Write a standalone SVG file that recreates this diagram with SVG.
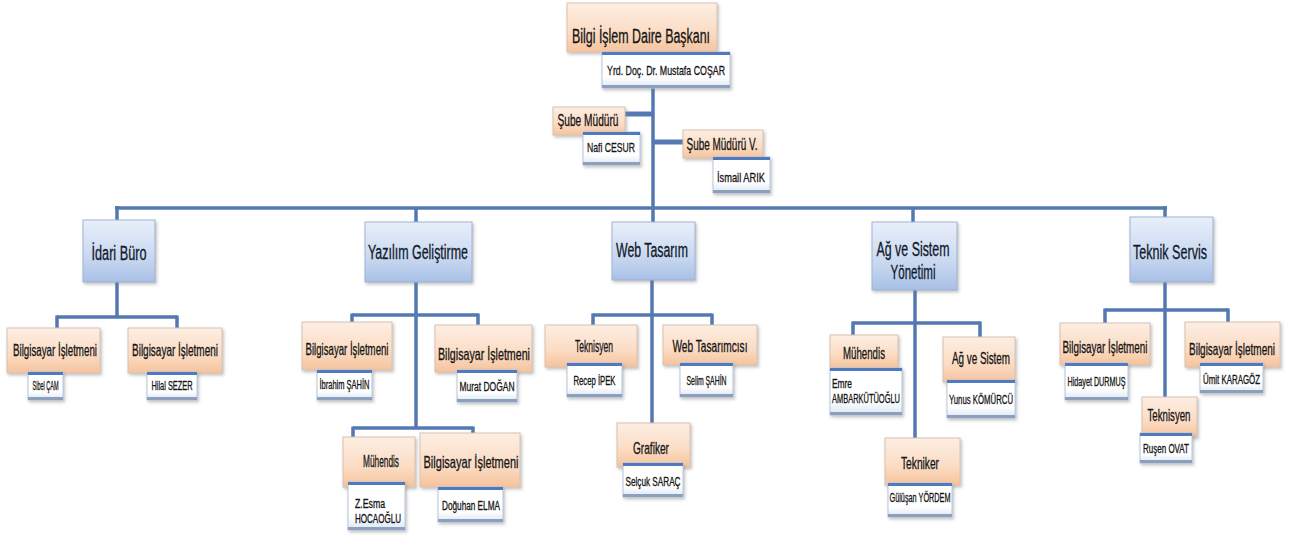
<svg xmlns="http://www.w3.org/2000/svg" width="1290" height="536" viewBox="0 0 1290 536">
<defs>
<linearGradient id="gOr" x1="0" y1="0" x2="0" y2="1">
<stop offset="0" stop-color="#fdeee3"/><stop offset="0.6" stop-color="#fbdcc4"/><stop offset="1" stop-color="#f5c39c"/>
</linearGradient>
<linearGradient id="gBl" x1="0" y1="0" x2="0" y2="1">
<stop offset="0" stop-color="#e8effa"/><stop offset="0.6" stop-color="#c9d8f0"/><stop offset="1" stop-color="#a8c0e6"/>
</linearGradient>
<linearGradient id="gNm" x1="0" y1="0" x2="0" y2="1">
<stop offset="0" stop-color="#ffffff"/><stop offset="0.7" stop-color="#ffffff"/><stop offset="1" stop-color="#dbe6f4"/>
</linearGradient>
<filter id="sh" x="-20%" y="-20%" width="140%" height="150%">
<feDropShadow dx="1.5" dy="2" stdDeviation="1.5" flood-color="#7a7a7a" flood-opacity="0.45"/>
</filter>
<style>
.ob{fill:url(#gOr);stroke:#d8c2b0;stroke-width:1;filter:url(#sh)}
.db{fill:url(#gBl);stroke:#9fb3d3;stroke-width:1;filter:url(#sh)}
.nb{fill:url(#gNm);stroke:#b7c6dc;stroke-width:1;filter:url(#sh)}
.nt{stroke:#4f7ac0;stroke-width:3;fill:none}
.nbb{stroke:#8c9fbd;stroke-width:3;fill:none}
.cn path{stroke:#5478b2;stroke-width:3.5;fill:none;stroke-linecap:butt}
.cn .th{stroke-width:5}
text{font-family:"Liberation Sans Narrow","Liberation Sans",Arial,sans-serif;fill:#141414;stroke:#141414;stroke-width:0.3}
.t1{font-size:20px;text-anchor:middle;fill:#10182a;stroke:#10182a}
.t2{font-size:16.5px;text-anchor:middle}
.t3{font-size:13.5px;text-anchor:middle}
.t4{font-size:12px;text-anchor:middle}
.t4l{font-size:12px}
</style>
</defs>
<rect width="1290" height="536" fill="#ffffff"/>
<g id="connectors" class="cn">
<path d="M653 88V208"/>
<path class="th" d="M625 114H653"/>
<path class="th" d="M653 142H683"/>
<path d="M115 208H1167"/>
<path d="M117 206V220"/>
<path d="M416 208V222"/>
<path d="M653 208V222"/>
<path d="M913 208V222"/>
<path d="M1165 206V217"/>
<path d="M117 282V317"/>
<path d="M57 317H177"/>
<path d="M57 315.5V328M177 315.5V328"/>
<path d="M416 282V428"/>
<path d="M352 315H478"/>
<path d="M352 313.5V323M478 313.5V325"/>
<path d="M353 428H473"/>
<path d="M353 426.5V437M473 426.5V433"/>
<path d="M652 280V423"/>
<path d="M593 315H712"/>
<path d="M593 313.5V325M712 313.5V325"/>
<path d="M915 290V438"/>
<path d="M853 323H980"/>
<path d="M853 321.5V335M980 321.5V337"/>
<path d="M1165 282V397"/>
<path d="M1105 310H1228"/>
<path d="M1105 308.5V323M1228 308.5V322"/>
</g>
<g id="baskan">
<rect class="ob" x="567" y="3" width="150" height="49"/>
<text class="t1" x="641" y="43" font-size="18" textLength="138" lengthAdjust="spacingAndGlyphs" style="fill:#141414;stroke:#141414">Bilgi İşlem Daire Başkanı</text>
<rect class="nb" x="602" y="52" width="128" height="36"/>
<path class="nt" d="M602 53.5H730"/><path class="nbb" d="M602 86.5H730"/>
<text class="t3" x="666" y="75" textLength="118" lengthAdjust="spacingAndGlyphs">Yrd. Doç. Dr. Mustafa COŞAR</text>
</g>
<g id="sube-muduru">
<rect class="ob" x="553" y="107" width="72" height="28"/>
<text class="t2" x="588" y="126" font-size="15" textLength="61" lengthAdjust="spacingAndGlyphs">Şube Müdürü</text>
<rect class="nb" x="583" y="132" width="57" height="33"/>
<path class="nt" d="M583 133.5H640"/><path class="nbb" d="M583 163.5H640"/>
<text class="t3" x="611" y="152" textLength="48" lengthAdjust="spacingAndGlyphs">Nafi CESUR</text>
</g>
<g id="sube-muduru-v">
<rect class="ob" x="683" y="130" width="80" height="28"/>
<text class="t2" x="722" y="150" font-size="15" textLength="71" lengthAdjust="spacingAndGlyphs">Şube Müdürü V.</text>
<rect class="nb" x="713" y="157" width="57" height="36"/>
<path class="nt" d="M713 158.5H770"/><path class="nbb" d="M713 191.5H770"/>
<text class="t3" x="741" y="182" textLength="48" lengthAdjust="spacingAndGlyphs">İsmail ARIK</text>
</g>
<g id="idari-buro">
<rect class="db" x="83" y="220" width="72" height="62"/>
<text class="t1" x="119" y="260" textLength="55" lengthAdjust="spacingAndGlyphs">İdari Büro</text>
</g>
<g id="idari-bi-1">
<rect class="ob" x="7" y="328" width="93" height="45"/>
<text class="t2" x="55" y="356" textLength="84" lengthAdjust="spacingAndGlyphs">Bilgisayar İşletmeni</text>
<rect class="nb" x="28" y="372" width="35" height="28"/>
<path class="nt" d="M28 373.5H63"/><path class="nbb" d="M28 398.5H63"/>
<text class="t4" x="45.5" y="390" textLength="26" lengthAdjust="spacingAndGlyphs">Sibel ÇAM</text>
</g>
<g id="idari-bi-2">
<rect class="ob" x="128" y="328" width="94" height="45"/>
<text class="t2" x="175" y="356" textLength="86" lengthAdjust="spacingAndGlyphs">Bilgisayar İşletmeni</text>
<rect class="nb" x="147" y="372" width="50" height="28"/>
<path class="nt" d="M147 373.5H197"/><path class="nbb" d="M147 398.5H197"/>
<text class="t4" x="172" y="390" textLength="41" lengthAdjust="spacingAndGlyphs">Hilal SEZER</text>
</g>
<g id="yazilim">
<rect class="db" x="365" y="222" width="107" height="60"/>
<text class="t1" x="418" y="259" textLength="100" lengthAdjust="spacingAndGlyphs">Yazılım Geliştirme</text>
</g>
<g id="yazilim-bi-1">
<rect class="ob" x="302" y="322" width="90" height="48"/>
<text class="t2" x="347" y="355" textLength="83" lengthAdjust="spacingAndGlyphs">Bilgisayar İşletmeni</text>
<rect class="nb" x="317" y="370" width="55" height="30"/>
<path class="nt" d="M317 371.5H372"/><path class="nbb" d="M317 398.5H372"/>
<text class="t4" x="344.5" y="389" textLength="50" lengthAdjust="spacingAndGlyphs">İbrahim ŞAHİN</text>
</g>
<g id="yazilim-bi-2">
<rect class="ob" x="435" y="325" width="97" height="47"/>
<text class="t2" x="484" y="360" textLength="92" lengthAdjust="spacingAndGlyphs">Bilgisayar İşletmeni</text>
<rect class="nb" x="457" y="370" width="60" height="32"/>
<path class="nt" d="M457 371.5H517"/><path class="nbb" d="M457 400.5H517"/>
<text class="t4" x="487" y="391" textLength="55" lengthAdjust="spacingAndGlyphs">Murat DOĞAN</text>
</g>
<g id="yazilim-muhendis">
<rect class="ob" x="343" y="437" width="72" height="50"/>
<text class="t2" x="381" y="467" textLength="36" lengthAdjust="spacingAndGlyphs">Mühendis</text>
<rect class="nb" x="348" y="482" width="57" height="48"/>
<path class="nt" d="M348 483.5H405"/><path class="nbb" d="M348 528.5H405"/>
<text class="t4l" x="355" y="508" textLength="30" lengthAdjust="spacingAndGlyphs">Z.Esma</text>
<text class="t4l" x="355" y="523" textLength="46" lengthAdjust="spacingAndGlyphs">HOCAOĞLU</text>
</g>
<g id="yazilim-bi-3">
<rect class="ob" x="420" y="433" width="100" height="54"/>
<text class="t2" x="471" y="468" textLength="95" lengthAdjust="spacingAndGlyphs">Bilgisayar İşletmeni</text>
<rect class="nb" x="438" y="487" width="65" height="35"/>
<path class="nt" d="M438 488.5H503"/><path class="nbb" d="M438 520.5H503"/>
<text class="t4" x="471" y="510" textLength="58" lengthAdjust="spacingAndGlyphs">Doğuhan ELMA</text>
</g>
<g id="web-tasarim">
<rect class="db" x="612" y="222" width="83" height="58"/>
<text class="t1" x="652" y="257" textLength="72" lengthAdjust="spacingAndGlyphs">Web Tasarım</text>
</g>
<g id="web-teknisyen">
<rect class="ob" x="545" y="325" width="92" height="42"/>
<text class="t2" x="594" y="352" textLength="38" lengthAdjust="spacingAndGlyphs">Teknisyen</text>
<rect class="nb" x="567" y="363" width="55" height="34"/>
<path class="nt" d="M567 364.5H622"/><path class="nbb" d="M567 395.5H622"/>
<text class="t4" x="594.5" y="385" textLength="42" lengthAdjust="spacingAndGlyphs">Recep İPEK</text>
</g>
<g id="web-tasarimci">
<rect class="ob" x="663" y="325" width="94" height="40"/>
<text class="t2" x="710" y="352" textLength="75" lengthAdjust="spacingAndGlyphs">Web Tasarımcısı</text>
<rect class="nb" x="680" y="363" width="53" height="34"/>
<path class="nt" d="M680 364.5H733"/><path class="nbb" d="M680 395.5H733"/>
<text class="t4" x="706.5" y="385" textLength="40" lengthAdjust="spacingAndGlyphs">Selim ŞAHİN</text>
</g>
<g id="web-grafiker">
<rect class="ob" x="617" y="423" width="73" height="44"/>
<text class="t2" x="651" y="454" textLength="36" lengthAdjust="spacingAndGlyphs">Grafiker</text>
<rect class="nb" x="623" y="463" width="60" height="34"/>
<path class="nt" d="M623 464.5H683"/><path class="nbb" d="M623 495.5H683"/>
<text class="t4" x="653" y="486" textLength="55" lengthAdjust="spacingAndGlyphs">Selçuk SARAÇ</text>
</g>
<g id="ag-sistem">
<rect class="db" x="872" y="222" width="85" height="68"/>
<text class="t1" x="913" y="256" textLength="73" lengthAdjust="spacingAndGlyphs">Ağ ve Sistem</text>
<text class="t1" x="913" y="279" textLength="45" lengthAdjust="spacingAndGlyphs">Yönetimi</text>
</g>
<g id="ag-muhendis">
<rect class="ob" x="830" y="335" width="68" height="33"/>
<text class="t2" x="864" y="359" textLength="42" lengthAdjust="spacingAndGlyphs">Mühendis</text>
<rect class="nb" x="830" y="368" width="72" height="47"/>
<path class="nt" d="M830 369.5H902"/><path class="nbb" d="M830 413.5H902"/>
<text class="t4l" x="832" y="388" textLength="20" lengthAdjust="spacingAndGlyphs">Emre</text>
<text class="t4l" x="832" y="403" textLength="68" lengthAdjust="spacingAndGlyphs">AMBARKÜTÜOĞLU</text>
</g>
<g id="ag-ag-sistem">
<rect class="ob" x="943" y="337" width="72" height="45"/>
<text class="t2" x="981" y="364" textLength="58" lengthAdjust="spacingAndGlyphs">Ağ ve Sistem</text>
<rect class="nb" x="947" y="380" width="68" height="38"/>
<path class="nt" d="M947 381.5H1015"/><path class="nbb" d="M947 416.5H1015"/>
<text class="t4" x="981" y="404" textLength="64" lengthAdjust="spacingAndGlyphs">Yunus KÖMÜRCÜ</text>
</g>
<g id="ag-tekniker">
<rect class="ob" x="885" y="438" width="75" height="47"/>
<text class="t2" x="920" y="469" textLength="38" lengthAdjust="spacingAndGlyphs">Tekniker</text>
<rect class="nb" x="888" y="483" width="64" height="34"/>
<path class="nt" d="M888 484.5H952"/><path class="nbb" d="M888 515.5H952"/>
<text class="t4" x="920" y="502" textLength="61" lengthAdjust="spacingAndGlyphs">Gülüşan YÖRDEM</text>
</g>
<g id="teknik-servis">
<rect class="db" x="1130" y="217" width="83" height="65"/>
<text class="t1" x="1170" y="259" textLength="74" lengthAdjust="spacingAndGlyphs">Teknik Servis</text>
</g>
<g id="teknik-bi-1">
<rect class="ob" x="1060" y="323" width="90" height="42"/>
<text class="t2" x="1105" y="353" textLength="85" lengthAdjust="spacingAndGlyphs">Bilgisayar İşletmeni</text>
<rect class="nb" x="1065" y="363" width="63" height="37"/>
<path class="nt" d="M1065 364.5H1128"/><path class="nbb" d="M1065 398.5H1128"/>
<text class="t4" x="1096.5" y="386" textLength="58" lengthAdjust="spacingAndGlyphs">Hidayet DURMUŞ</text>
</g>
<g id="teknik-bi-2">
<rect class="ob" x="1185" y="322" width="95" height="45"/>
<text class="t2" x="1232" y="355" textLength="86" lengthAdjust="spacingAndGlyphs">Bilgisayar İşletmeni</text>
<rect class="nb" x="1200" y="363" width="63" height="30"/>
<path class="nt" d="M1200 364.5H1263"/><path class="nbb" d="M1200 391.5H1263"/>
<text class="t4" x="1231.5" y="384" textLength="57" lengthAdjust="spacingAndGlyphs">Ümit KARAGÖZ</text>
</g>
<g id="teknik-teknisyen">
<rect class="ob" x="1142" y="397" width="55" height="40"/>
<text class="t2" x="1169" y="421" textLength="43" lengthAdjust="spacingAndGlyphs">Teknisyen</text>
<rect class="nb" x="1140" y="433" width="52" height="30"/>
<path class="nt" d="M1140 434.5H1192"/><path class="nbb" d="M1140 461.5H1192"/>
<text class="t4" x="1166" y="453" textLength="46" lengthAdjust="spacingAndGlyphs">Ruşen OVAT</text>
</g>
</svg>
